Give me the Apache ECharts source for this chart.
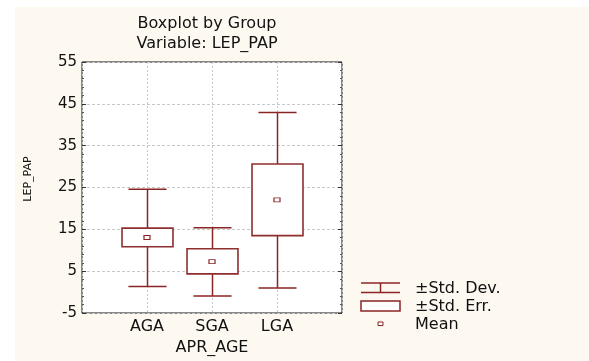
<!DOCTYPE html>
<html>
<head>
<meta charset="utf-8">
<script src="https://cdn.jsdelivr.net/npm/echarts@6/dist/echarts.min.js"></script>
<style>
html,body{margin:0;padding:0;background:#fff;}
#c{width:589px;height:361px;}
</style>
</head>
<body>
<div id="c"></div>
<script>
const categories = ['AGA', 'SGA', 'LGA'];
const means = [13.05, 7.3, 22.05];
const stdErrLow = [10.85, 4.35, 13.5];
const stdErrHigh = [15.3, 10.35, 30.6];
const stdDevLow = [1.35, -0.95, 0.95];
const stdDevHigh = [24.6, 15.4, 42.9];
const yTicks = [-5, 5, 15, 25, 35, 45, 55];

const RED = '#8b2525';
const FONT = 'DejaVu Sans';

const axisCats = [''].concat(categories).concat(['']);
const boxData = categories.map((c, i) => [c, stdDevLow[i], stdErrLow[i], stdErrHigh[i], stdDevHigh[i]]);
const meanData = categories.map((c, i) => [c, means[i]]);

const chart = echarts.init(document.getElementById('c'), null, {renderer: 'canvas'});
chart.setOption({
  backgroundColor: '#ffffff',
  animation: false,
  title: {
    text: 'Boxplot by Group\nVariable: LEP_PAP',
    left: 202, top: 9, textAlign: 'center',
    textStyle: {fontFamily: FONT, fontSize: 16, fontWeight: 'normal', color: '#111', lineHeight: 20}
  },
  graphic: [
    {type: 'rect', z: -10, silent: true, shape: {x: 15, y: 7, width: 574, height: 354}, style: {fill: '#fdf9f1'}},
    // legend
    {type: 'line', shape: {x1: 361, y1: 283, x2: 400, y2: 283}, style: {stroke: RED, lineWidth: 1.5}},
    {type: 'line', shape: {x1: 361, y1: 292.5, x2: 400, y2: 292.5}, style: {stroke: RED, lineWidth: 1.5}},
    {type: 'line', shape: {x1: 380.5, y1: 283, x2: 380.5, y2: 292.5}, style: {stroke: RED, lineWidth: 1.5}},
    {type: 'rect', shape: {x: 361, y: 301, width: 39, height: 10}, style: {fill: '#fff', stroke: RED, lineWidth: 1.5}},
    {type: 'rect', shape: {x: 378, y: 322, width: 5, height: 3.5}, style: {fill: '#fff', stroke: RED, lineWidth: 1}},
    {type: 'text', x: 415, y: 289, style: {text: '±Std. Dev.', font: '16px "DejaVu Sans"', fill: '#111', verticalAlign: 'middle'}},
    {type: 'text', x: 415, y: 306.5, style: {text: '±Std. Err.', font: '16px "DejaVu Sans"', fill: '#111', verticalAlign: 'middle'}},
    {type: 'text', x: 415, y: 324.5, style: {text: 'Mean', font: '16px "DejaVu Sans"', fill: '#111', verticalAlign: 'middle'}}
  ],
  grid: {
    left: 82, top: 62, width: 260, height: 255,
    show: true, backgroundColor: '#ffffff', borderColor: '#111', borderWidth: 1
  },
  xAxis: {
    type: 'category', data: axisCats, boundaryGap: false,
    name: 'APR_AGE', nameLocation: 'middle', nameGap: 27,
    nameTextStyle: {fontFamily: FONT, fontSize: 16, color: '#111'},
    axisLine: {show: false},
    axisTick: {show: false},
    axisLabel: {fontFamily: FONT, fontSize: 16, color: '#111', margin: 6, interval: 0},
    splitLine: {show: true, lineStyle: {color: '#c8c8c8', type: [2, 2], width: 1}}
  },
  yAxis: [{
    type: 'value', min: -5, max: 55, interval: 10,
    name: 'LEP_PAP', nameLocation: 'middle', nameGap: 48,
    nameTextStyle: {fontFamily: FONT, fontSize: 11, color: '#111', padding: [0, 0, 0, 17]},
    axisLine: {show: false},
    axisTick: {show: true, inside: true, length: 4, lineStyle: {color: '#333'}},
    minorTick: {show: true, splitNumber: 5, length: 2, lineStyle: {color: '#555'}},
    axisLabel: {fontFamily: FONT, fontSize: 15, color: '#111', margin: 5,
      formatter: v => (yTicks.indexOf(v) >= 0 ? String(v) : '')},
    splitLine: {show: true, lineStyle: {color: '#c8c8c8', type: [3, 2], width: 1}}
  }, {
    type: 'value', min: -5, max: 55, interval: 10, position: 'right',
    axisLine: {show: false},
    axisTick: {show: true, inside: true, length: 4, lineStyle: {color: '#333'}},
    minorTick: {show: true, splitNumber: 5, length: 2, lineStyle: {color: '#555'}},
    axisLabel: {show: false},
    splitLine: {show: false}
  }],
  series: [{
    type: 'custom', name: 'box',
    data: boxData,
    encode: {x: 0, y: [1, 2, 3, 4]},
    renderItem: function (params, api) {
      const xi = api.value(0);
      const pLow = api.coord([xi, api.value(1)]);
      const pSeL = api.coord([xi, api.value(2)]);
      const pSeH = api.coord([xi, api.value(3)]);
      const pHigh = api.coord([xi, api.value(4)]);
      const band = api.size([1, 0])[0];
      const capHalf = band * 0.293;
      const boxHalf = band * 0.392;
      const cx = Math.round(pLow[0]) + 0.5;
      const lineStyle = {stroke: RED, lineWidth: 1.5, fill: null};
      return {
        type: 'group',
        children: [
          {type: 'line', shape: {x1: cx, y1: pLow[1], x2: cx, y2: pHigh[1]}, style: lineStyle},
          {type: 'line', shape: {x1: cx - capHalf, y1: pLow[1], x2: cx + capHalf, y2: pLow[1]}, style: lineStyle},
          {type: 'line', shape: {x1: cx - capHalf, y1: pHigh[1], x2: cx + capHalf, y2: pHigh[1]}, style: lineStyle},
          {type: 'rect', shape: {x: cx - boxHalf, y: pSeH[1], width: boxHalf * 2, height: pSeL[1] - pSeH[1]},
            style: {fill: '#fff', stroke: '#8e2e2e', lineWidth: 1.6}}
        ]
      };
    },
    z: 3
  }, {
    type: 'scatter', name: 'Mean',
    data: meanData,
    symbol: 'rect', symbolSize: [6, 4],
    itemStyle: {color: '#fff', borderColor: RED, borderWidth: 1, opacity: 1},
    z: 5
  }]
});
</script>
</body>
</html>
